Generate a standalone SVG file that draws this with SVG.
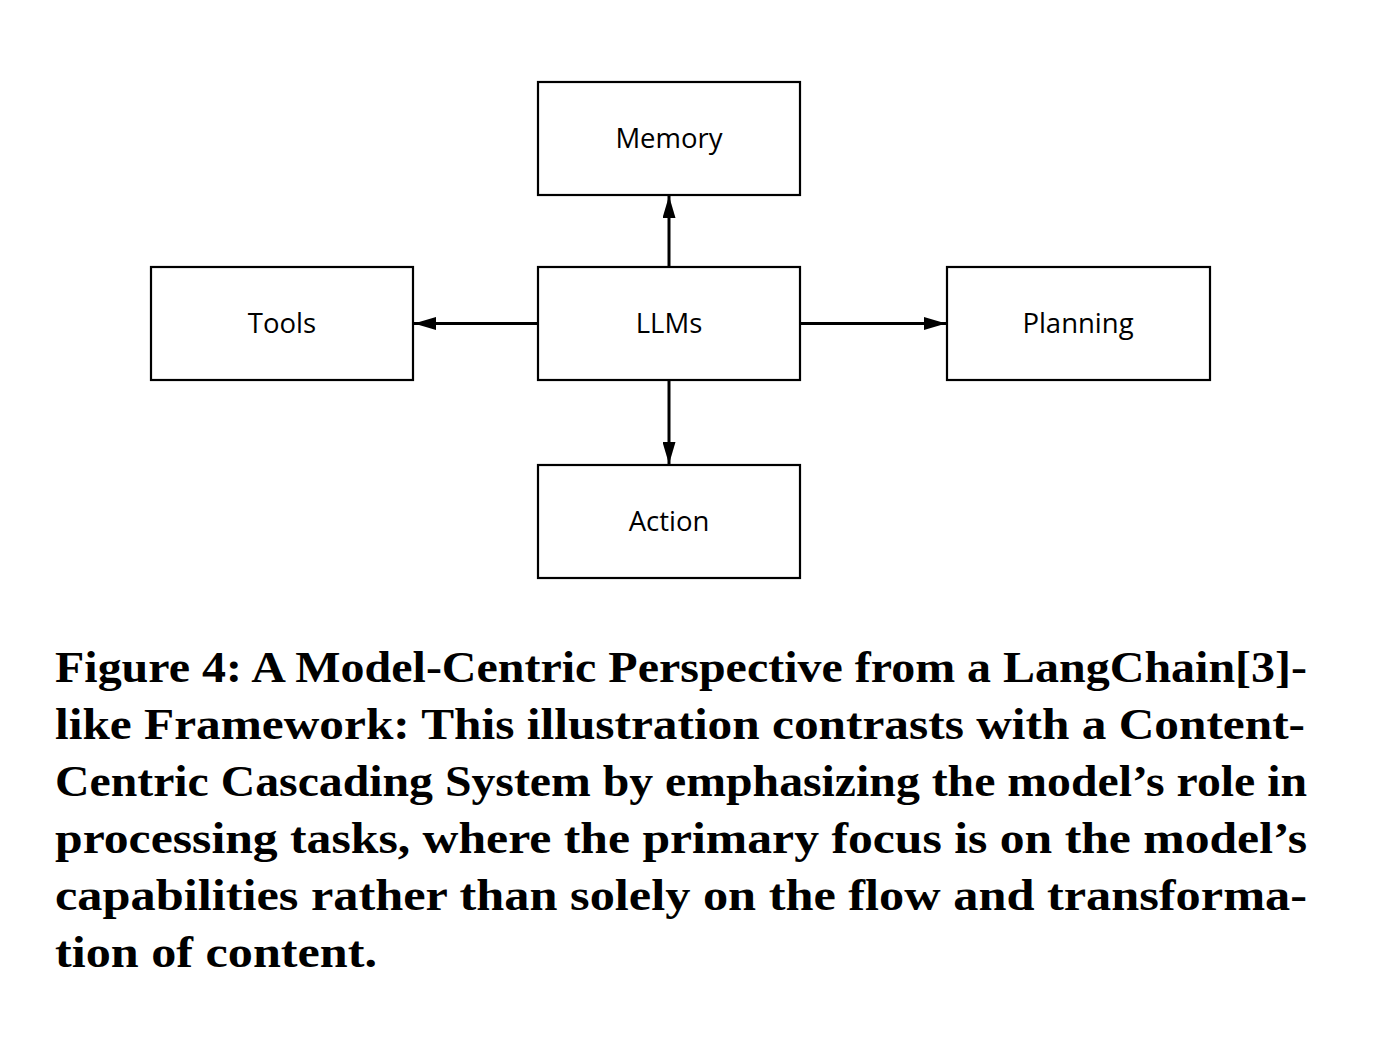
<svg xmlns="http://www.w3.org/2000/svg" width="1386" height="1046" viewBox="0 0 1386 1046">
<style>
.box{fill:#fff;stroke:#000;stroke-width:2.2}
.lbl{font-family:"Open Sans","Noto Sans",sans-serif;font-size:27.5px;fill:#000;text-anchor:middle}
.edge{stroke:#000;stroke-width:3;fill:none}
.cap{font-family:"Liberation Serif",serif;font-weight:bold;font-size:44px;fill:#000}
</style>
<defs>
<marker id="ah" markerWidth="22" markerHeight="13" refX="22" refY="6.5" orient="auto" markerUnits="userSpaceOnUse">
<path d="M0,0 L22,6.5 L0,13 Z" fill="#000"/>
</marker>
</defs>
<rect width="1386" height="1046" fill="#fff"/>
<g id="connectors">
<line class="edge" x1="669" y1="267" x2="669" y2="196" marker-end="url(#ah)"/>
<line class="edge" x1="538" y1="323.5" x2="414" y2="323.5" marker-end="url(#ah)"/>
<line class="edge" x1="800" y1="323.5" x2="946" y2="323.5" marker-end="url(#ah)"/>
<line class="edge" x1="669" y1="380" x2="669" y2="464" marker-end="url(#ah)"/>
</g>
<g id="memory"><rect class="box" x="538" y="82" width="262" height="113"/><text class="lbl" x="669" y="148">Memory</text></g>
<g id="llms"><rect class="box" x="538" y="267" width="262" height="113"/><text class="lbl" x="669" y="333">LLMs</text></g>
<g id="tools"><rect class="box" x="151" y="267" width="262" height="113"/><text class="lbl" x="282" y="333">Tools</text></g>
<g id="planning"><rect class="box" x="947" y="267" width="263" height="113"/><text class="lbl" x="1078" y="333">Planning</text></g>
<g id="action"><rect class="box" x="538" y="465" width="262" height="113"/><text class="lbl" x="669" y="531">Action</text></g>
<g id="caption">
<text class="cap" x="55" y="682" textLength="1252" lengthAdjust="spacingAndGlyphs">Figure 4: A Model-Centric Perspective from a LangChain[3]-</text>
<text class="cap" x="55" y="739" textLength="1250" lengthAdjust="spacingAndGlyphs">like Framework: This illustration contrasts with a Content-</text>
<text class="cap" x="55" y="796" textLength="1252" lengthAdjust="spacingAndGlyphs">Centric Cascading System by emphasizing the model’s role in</text>
<text class="cap" x="55" y="853" textLength="1252" lengthAdjust="spacingAndGlyphs">processing tasks, where the primary focus is on the model’s</text>
<text class="cap" x="55" y="910" textLength="1252" lengthAdjust="spacingAndGlyphs">capabilities rather than solely on the flow and transforma-</text>
<text class="cap" x="55" y="967" textLength="322" lengthAdjust="spacingAndGlyphs">tion of content.</text>
</g>
</svg>
